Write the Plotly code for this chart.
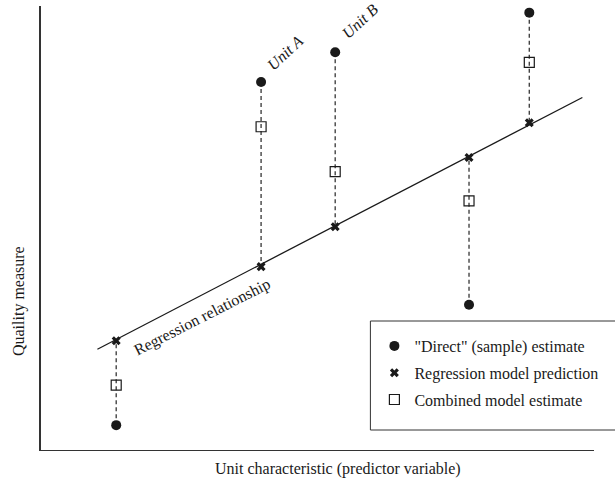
import plotly.graph_objects as go

# ---- data (arbitrary 0-100 units) ----
unit_x = [13.6, 39.8, 53.2, 77.4, 88.3]
direct_est = [5.6, 82.9, 89.6, 32.7, 98.5]
regression_pred = [24.6, 41.3, 50.3, 65.9, 73.7]
combined_est = [14.6, 72.8, 62.7, 56.1, 87.3]

reg_line_x = [10.2, 97.9]
reg_line_y = [22.7, 79.4]

legend_names = ['"Direct" (sample) estimate', 'Regression model prediction', 'Combined model estimate']

FONT = "Liberation Serif, Times New Roman, serif"
INK = "#1a1a1a"

fig = go.Figure()

# regression line
fig.add_trace(go.Scatter(x=reg_line_x, y=reg_line_y, mode="lines",
                         line=dict(color=INK, width=1.3), showlegend=False, hoverinfo="skip"))

# dashed connectors between direct estimate and regression prediction
dx, dy = [], []
for xv, d, r in zip(unit_x, direct_est, regression_pred):
    dx += [xv, xv, None]
    dy += [d, r, None]
fig.add_trace(go.Scatter(x=dx, y=dy, mode="lines",
                         line=dict(color="#444", width=1.4, dash="4px,3px"),
                         showlegend=False, hoverinfo="skip"))

fig.add_trace(go.Scatter(x=unit_x, y=direct_est, mode="markers", name=legend_names[0],
                         marker=dict(symbol="circle", size=10, color=INK), legendgroup="a"))
fig.add_trace(go.Scatter(x=unit_x, y=regression_pred, mode="markers", name=legend_names[1],
                         marker=dict(symbol="x", size=8, color=INK, line=dict(width=0)), legendgroup="b"))
fig.add_trace(go.Scatter(x=unit_x, y=combined_est, mode="markers", name=legend_names[2],
                         marker=dict(symbol="square-open", size=10, color=INK, line=dict(width=1.2)),
                         legendgroup="c"))

annotations = [
    dict(x=44.2, y=89.5, text="Unit A", textangle=-43, style="italic"),
    dict(x=57.6, y=96.5, text="Unit B", textangle=-43, style="italic"),
    dict(x=29.2, y=29.9, text="Regression relationship", textangle=-27, style="normal"),
]
for a in annotations:
    fig.add_annotation(xref="x", yref="y", showarrow=False, x=a["x"], y=a["y"],
                       text=a["text"], textangle=a["textangle"],
                       xanchor="center", yanchor="middle",
                       font=dict(family=FONT, size=16, color=INK, style=a["style"]))

# axis titles
fig.add_annotation(xref="paper", yref="paper", x=(339 - 41) / 554, y=(450 - 469) / 444,
                   xanchor="center", yanchor="middle",
                   text="Unit characteristic (predictor variable)", showarrow=False,
                   font=dict(family=FONT, size=16, color=INK))
fig.add_annotation(xref="paper", yref="paper", x=(19 - 41) / 554, y=(450 - 301) / 444,
                   xanchor="center", yanchor="middle",
                   text="Quaility measure", textangle=-90, showarrow=False,
                   font=dict(family=FONT, size=16, color=INK))

# legend box
fig.add_shape(type="rect", xref="paper", yref="paper",
              x0=(371 - 41) / 554, x1=(640 - 41) / 554,
              y0=(450 - 430) / 444, y1=(450 - 321) / 444,
              line=dict(color="#333", width=1), fillcolor="white", layer="below")

fig.update_layout(
    width=615, height=484,
    margin=dict(l=41, r=21, t=6, b=34),
    plot_bgcolor="white", paper_bgcolor="white",
    font=dict(family=FONT, size=16, color=INK),
    xaxis=dict(range=[0, 100], showgrid=False, zeroline=False, showticklabels=False,
               ticks="", showline=True, linecolor="#333", linewidth=1.2),
    yaxis=dict(range=[0, 100], showgrid=False, zeroline=False, showticklabels=False,
               ticks="", showline=True, linecolor="#333", linewidth=1.5),
    legend=dict(x=(375 - 41) / 554, y=(450 - 329) / 444, xanchor="left", yanchor="top",
                bgcolor="rgba(0,0,0,0)", borderwidth=0, tracegroupgap=3,
                font=dict(family=FONT, size=16, color=INK)),
    showlegend=True,
)

fig.write_html("out.html", config={"displayModeBar": False},
               post_script="document.body.style.margin='0';")
